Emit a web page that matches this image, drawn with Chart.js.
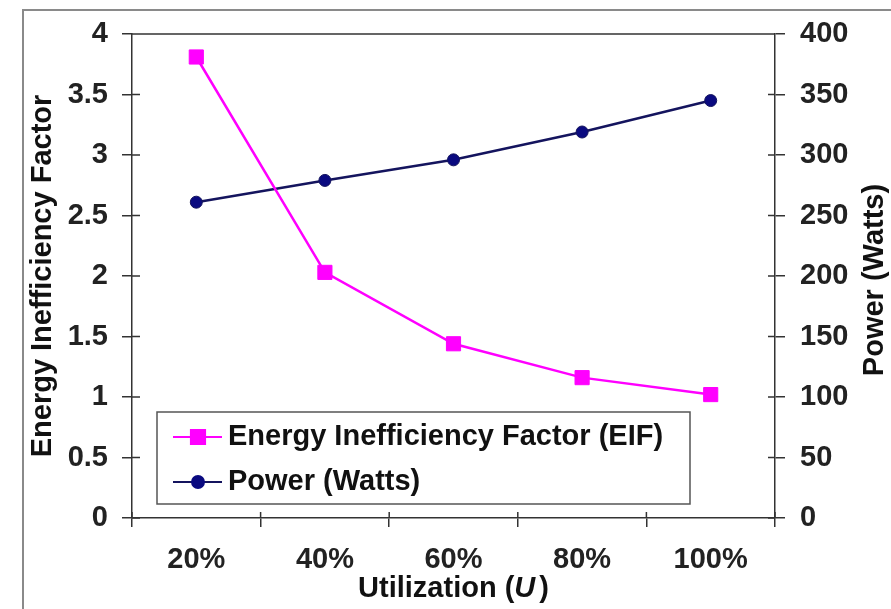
<!DOCTYPE html>
<html>
<head>
<meta charset="utf-8">
<script src="https://cdn.jsdelivr.net/npm/chart.js@4.4.0/dist/chart.umd.min.js"></script>
<style>
  html, body { margin: 0; padding: 0; background: #fff; }
</style>
</head>
<body>
<canvas id="chart" width="891" height="609"></canvas>
<script>
const utilization = ['20%', '40%', '60%', '80%', '100%'];
const eifValues = [3.81, 2.03, 1.44, 1.16, 1.02];
const powerValues = [261, 279, 296, 319, 345];
const eifTicks = [0, 0.5, 1, 1.5, 2, 2.5, 3, 3.5, 4];
const powerTicks = [0, 50, 100, 150, 200, 250, 300, 350, 400];

const FAMILY = '"Liberation Sans", Arial, sans-serif';
const tickFont = { family: FAMILY, size: 29, weight: 'bold', lineHeight: 1 };
const axisColor = '#333';

// frame, top border, inner tick halves, legend and the right-hand title
const decor = {
  id: 'decor',
  beforeDraw(chart) {
    const ctx = chart.ctx;
    ctx.save();
    ctx.fillStyle = '#fff';
    ctx.fillRect(0, 0, chart.width, chart.height);
    ctx.strokeStyle = '#8a8a8a';
    ctx.lineWidth = 2;
    ctx.strokeRect(23, 10, 900, 700);
    ctx.restore();
  },
  afterDraw(chart) {
    const ctx = chart.ctx;
    const area = chart.chartArea;
    const x = chart.scales.x, y = chart.scales.y, y1 = chart.scales.y1;
    ctx.save();
    ctx.strokeStyle = axisColor;
    ctx.lineWidth = 1.5;

    ctx.beginPath();
    ctx.moveTo(area.left, area.top);
    ctx.lineTo(area.right, area.top);
    y.ticks.forEach(t => {
      const py = y.getPixelForValue(t.value);
      ctx.moveTo(area.left, py);
      ctx.lineTo(area.left + 8, py);
    });
    y1.ticks.forEach(t => {
      const py = y1.getPixelForValue(t.value);
      ctx.moveTo(area.right - 7, py);
      ctx.lineTo(area.right, py);
    });
    for (let i = 0; i <= utilization.length; i++) {
      const px = x.getPixelForValue(i - 0.5);
      ctx.moveTo(px, area.bottom - 6);
      ctx.lineTo(px, area.bottom);
    }
    ctx.stroke();

    // legend box
    const box = { left: 157, top: 412, width: 533, height: 92 };
    ctx.fillStyle = '#fff';
    ctx.fillRect(box.left, box.top, box.width, box.height);
    ctx.strokeStyle = '#555';
    ctx.strokeRect(box.left, box.top, box.width, box.height);
    const rows = [437, 482];
    chart.data.datasets.forEach((ds, i) => {
      const ry = rows[i];
      ctx.strokeStyle = ds.borderColor;
      ctx.lineWidth = 2;
      ctx.beginPath();
      ctx.moveTo(173, ry);
      ctx.lineTo(222, ry);
      ctx.stroke();
      ctx.fillStyle = ds.backgroundColor;
      ctx.strokeStyle = ds.backgroundColor;
      Chart.helpers.drawPoint(ctx, {
        pointStyle: ds.pointStyle, radius: ds.pointRadius, rotation: 0, borderWidth: 1
      }, 198, ry);
      ctx.fillStyle = '#111';
      ctx.font = 'bold 29px ' + FAMILY;
      ctx.textAlign = 'left';
      ctx.textBaseline = 'middle';
      ctx.fillText(ds.label, 228, ry);
    });

    // x axis title with italic U
    ctx.fillStyle = '#111';
    ctx.textBaseline = 'alphabetic';
    ctx.textAlign = 'left';
    const bold = 'bold 29px ' + FAMILY;
    const ital = 'italic bold 29px ' + FAMILY;
    ctx.font = bold;
    const w1 = ctx.measureText('Utilization (').width;
    const w3 = ctx.measureText(')').width;
    ctx.font = ital;
    const w2 = ctx.measureText('U').width + 4;
    let tx = (area.left + area.right) / 2 - (w1 + w2 + w3) / 2;
    ctx.font = bold;
    ctx.fillText('Utilization (', tx, 597);
    ctx.font = ital;
    ctx.fillText('U', tx + w1, 597);
    ctx.font = bold;
    ctx.fillText(')', tx + w1 + w2, 597);

    // right axis title, reading bottom to top
    ctx.translate(883, 280);
    ctx.rotate(-Math.PI / 2);
    ctx.textAlign = 'center';
    ctx.fillText('Power (Watts)', 0, 0);
    ctx.restore();
  }
};

new Chart(document.getElementById('chart'), {
  type: 'line',
  data: {
    labels: utilization,
    datasets: [
      {
        label: 'Energy Inefficiency Factor (EIF)',
        data: eifValues,
        yAxisID: 'y',
        borderColor: '#ff00ff',
        backgroundColor: '#ff00ff',
        borderWidth: 2.5,
        pointStyle: 'rect',
        pointRadius: 10,
        pointBorderWidth: 1,
        tension: 0
      },
      {
        label: 'Power (Watts)',
        data: powerValues,
        yAxisID: 'y1',
        borderColor: '#14145e',
        backgroundColor: '#0a0a80',
        borderWidth: 2.5,
        pointStyle: 'circle',
        pointRadius: 6,
        pointBorderWidth: 1,
        tension: 0
      }
    ]
  },
  options: {
    responsive: false,
    animation: false,
    layout: { padding: { left: 22, top: 34, right: 0, bottom: 0 } },
    plugins: { legend: { display: false }, tooltip: { enabled: false } },
    scales: {
      x: {
        offset: true,
        grid: { offset: true, drawOnChartArea: false, tickLength: 9, color: axisColor, lineWidth: 1.5 },
        border: { color: axisColor, width: 1.5 },
        ticks: { padding: 18, color: '#222', font: tickFont, maxRotation: 0 },
        afterFit: s => { s.height = 91; }
      },
      y: {
        position: 'left',
        min: 0,
        max: 4,
        afterBuildTicks: s => { s.ticks = eifTicks.map(v => ({ value: v })); },
        grid: { drawOnChartArea: false, tickLength: 10, color: axisColor, lineWidth: 1.5 },
        border: { color: axisColor, width: 1.5 },
        ticks: { padding: 14, color: '#222', font: tickFont, callback: v => String(v) },
        title: {
          display: true,
          text: 'Energy Inefficiency Factor',
          color: '#111',
          font: tickFont,
          padding: { top: 6, bottom: 0 }
        },
        afterFit: s => { s.width = 110; }
      },
      y1: {
        position: 'right',
        min: 0,
        max: 400,
        afterBuildTicks: s => { s.ticks = powerTicks.map(v => ({ value: v })); },
        grid: { drawOnChartArea: false, tickLength: 10, color: axisColor, lineWidth: 1.5 },
        border: { color: axisColor, width: 1.5 },
        ticks: { padding: 15, color: '#222', font: tickFont, callback: v => String(v) },
        afterFit: s => { s.width = 116; }
      }
    }
  },
  plugins: [decor]
});
</script>
</body>
</html>
